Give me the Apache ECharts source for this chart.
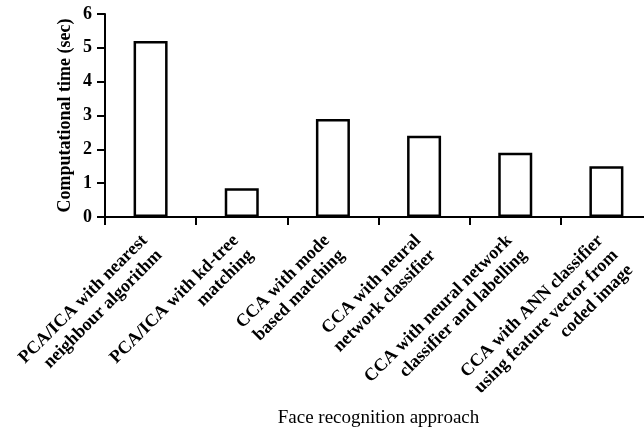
<!DOCTYPE html>
<html>
<head>
<meta charset="utf-8">
<script src="https://cdn.jsdelivr.net/npm/echarts@6/dist/echarts.min.js"></script>
<style>
html,body{margin:0;padding:0;background:#fff;}
#chart{width:644px;height:428px;}
</style>
</head>
<body>
<div id="chart"></div>
<script>
var categories = [
  "PCA/ICA with nearest\nneighbour algorithm",
  "PCA/ICA with kd-tree\nmatching",
  "CCA with mode\nbased matching",
  "CCA with neural\nnetwork classifier",
  "CCA with neural network\nclassifier and labelling",
  "CCA with ANN classifier\nusing feature vector from\ncoded image"
];
var times = [5.2, 0.85, 2.9, 2.4, 1.9, 1.5];
var yTicks = [0, 1, 2, 3, 4, 5, 6];
var yTitle = "Computational time (sec)";
var xTitle = "Face recognition approach";

var FONT = "'Liberation Serif','Times New Roman',serif";
var chart = echarts.init(document.getElementById('chart'));
chart.setOption({
  animation: false,
  backgroundColor: '#fff',
  grid: {left: 105, top: 14, bottom: 211, right: -8, containLabel: false, outerBoundsMode: 'none'},
  xAxis: {
    type: 'category',
    data: categories,
    boundaryGap: true,
    name: xTitle,
    nameLocation: 'middle',
    nameGap: 192,
    nameMoveOverlap: false,
    nameTextStyle: {fontFamily: FONT, fontSize: 19, color: '#000'},
    axisLine: {lineStyle: {color: '#000', width: 2}},
    axisTick: {show: true, length: 8, lineStyle: {color: '#000', width: 2}},
    axisLabel: {
      interval: 0,
      rotate: 45,
      margin: 0,
      align: 'right',
      verticalAlign: 'top',
      padding: [0, 19, 0, 0],
      fontFamily: FONT, fontSize: 18, fontWeight: 'bold', color: '#000', lineHeight: 21
    },
    splitLine: {show: false}
  },
  yAxis: {
    type: 'value',
    min: yTicks[0],
    max: yTicks[yTicks.length - 1],
    interval: 1,
    name: yTitle,
    nameLocation: 'middle',
    nameGap: 31,
    nameMoveOverlap: false,
    nameTextStyle: {fontFamily: FONT, fontSize: 18, fontWeight: 'bold', color: '#000'},
    axisLine: {show: true, lineStyle: {color: '#000', width: 2}},
    axisTick: {show: true, length: 8, lineStyle: {color: '#000', width: 2}},
    axisLabel: {margin: 13, fontFamily: FONT, fontSize: 18, fontWeight: 'bold', color: '#000'},
    splitLine: {show: false}
  },
  series: [{
    type: 'bar',
    data: times,
    barWidth: 34,
    itemStyle: {color: '#fff', borderColor: '#000', borderWidth: 2.5}
  }]
});
</script>
</body>
</html>
